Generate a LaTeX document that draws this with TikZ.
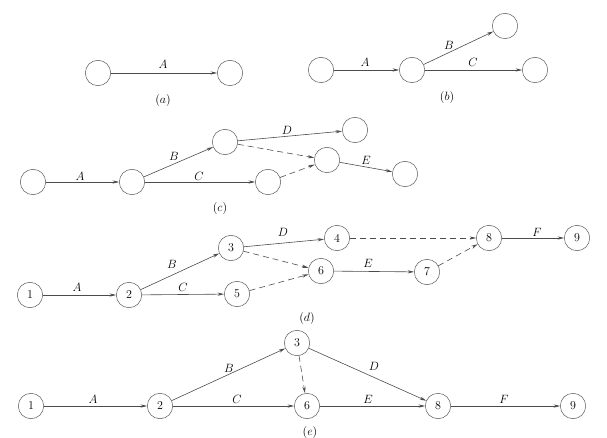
\documentclass[tikz,border=0pt]{standalone}
\usetikzlibrary{arrows.meta}
\begin{document}
\begin{tikzpicture}[x=1pt,y=-1pt,
 ev/.style={circle,draw=black!65,line width=0.5pt,minimum size=25.4pt,inner sep=0pt,font=\fontsize{12}{14}\selectfont},
 act/.style={draw=black!70,line width=0.6pt,-{Stealth[length=6.5pt,width=3.2pt]}},
 dum/.style={act,dash pattern=on 6pt off 4pt},
 lab/.style={inner sep=0pt,font=\fontsize{12.5}{15}\selectfont},
 captxt/.style={inner sep=0pt,font=\fontsize{12.5}{15}\selectfont}]
\useasboundingbox (0,0) rectangle (607,438);

% (a)
\node[ev] (a1) at (98,73) {};
\node[ev] (a2) at (230,73) {};
\draw[act] (a1) -- (a2);
\node[lab] (aA) at (163,64) {$A$};
\node[captxt] (acap) at (163,101) {$(a)$};

% (b)
\node[ev] (b1) at (321,70) {};
\node[ev] (b2) at (412,70) {};
\node[ev] (b3) at (505,26) {};
\node[ev] (b4) at (535,70) {};
\draw[act] (b1) -- (b2);
\draw[act] (b2) -- (b3);
\draw[act] (b2) -- (b4);
\node[lab] (bA) at (365,62) {$A$};
\node[lab] (bB) at (449,45) {$B$};
\node[lab] (bC) at (473,62) {$C$};
\node[captxt] (bcap) at (447,98) {$(b)$};

% (c)
\node[ev] (c1) at (33,182) {};
\node[ev] (c2) at (132,182) {};
\node[ev] (c3) at (225,142) {};
\node[ev] (c4) at (355,130) {};
\node[ev] (c5) at (268,182) {};
\node[ev] (c6) at (327,160) {};
\node[ev] (c7) at (405,174) {};
\draw[act] (c1) -- (c2);
\draw[act] (c2) -- (c3);
\draw[act] (c2) -- (c5);
\draw[act] (c3) -- (c4);
\draw[dum] (c3) -- (c6);
\draw[dum] (c5) -- (c6);
\draw[act] (c6) -- (c7);
\node[lab] (cA) at (80,176) {$A$};
\node[lab] (cB) at (174,156) {$B$};
\node[lab] (cC) at (199,176) {$C$};
\node[lab] (cD) at (287,130) {$D$};
\node[lab] (cE) at (366,160) {$E$};
\node[captxt] (ccap) at (220,209) {$(c)$};

% (d)
\node[ev] (d1) at (30,295) {1};
\node[ev] (d2) at (129,295) {2};
\node[ev] (d3) at (231,248) {3};
\node[ev] (d4) at (337,238) {4};
\node[ev] (d5) at (237,294) {5};
\node[ev] (d6) at (321,271) {6};
\node[ev] (d7) at (427,272) {7};
\node[ev] (d8) at (489,238) {8};
\node[ev] (d9) at (577,238) {9};
\draw[act] (d1) -- (d2);
\draw[act] (d2) -- (d3);
\draw[act] (d2) -- (d5);
\draw[act] (d3) -- (d4);
\draw[dum] (d3) -- (d6);
\draw[dum] (d5) -- (d6);
\draw[dum] (d4) -- (d8);
\draw[act] (d6) -- (d7);
\draw[dum] (d7) -- (d8);
\draw[act] (d8) -- (d9);
\node[lab] (dA) at (77,287) {$A$};
\node[lab] (dB) at (172,264) {$B$};
\node[lab] (dC) at (183,287) {$C$};
\node[lab] (dD) at (283,232) {$D$};
\node[lab] (dE) at (368,263) {$E$};
\node[lab] (dF) at (537,232) {$F$};
\node[captxt] (dcap) at (307,318) {$(d)$};

% (e)
\node[ev] (e1) at (31,406) {1};
\node[ev] (e2) at (160,406) {2};
\node[ev] (e3) at (297,343) {3};
\node[ev] (e6) at (307,406) {6};
\node[ev] (e8) at (438,406) {8};
\node[ev] (e9) at (573,406) {9};
\draw[act] (e1) -- (e2);
\draw[act] (e2) -- (e3);
\draw[act] (e2) -- (e6);
\draw[dum] (e3) -- (e6);
\draw[act] (e3) -- (e8);
\draw[act] (e6) -- (e8);
\draw[act] (e8) -- (e9);
\node[lab] (eA) at (93,399) {$A$};
\node[lab] (eB) at (229,368) {$B$};
\node[lab] (eC) at (237,399) {$C$};
\node[lab] (eD) at (374,366) {$D$};
\node[lab] (eE) at (368,399) {$E$};
\node[lab] (eF) at (504,399) {$F$};
\node[captxt] (ecap) at (310,432) {$(e)$};
\end{tikzpicture}
\end{document}
